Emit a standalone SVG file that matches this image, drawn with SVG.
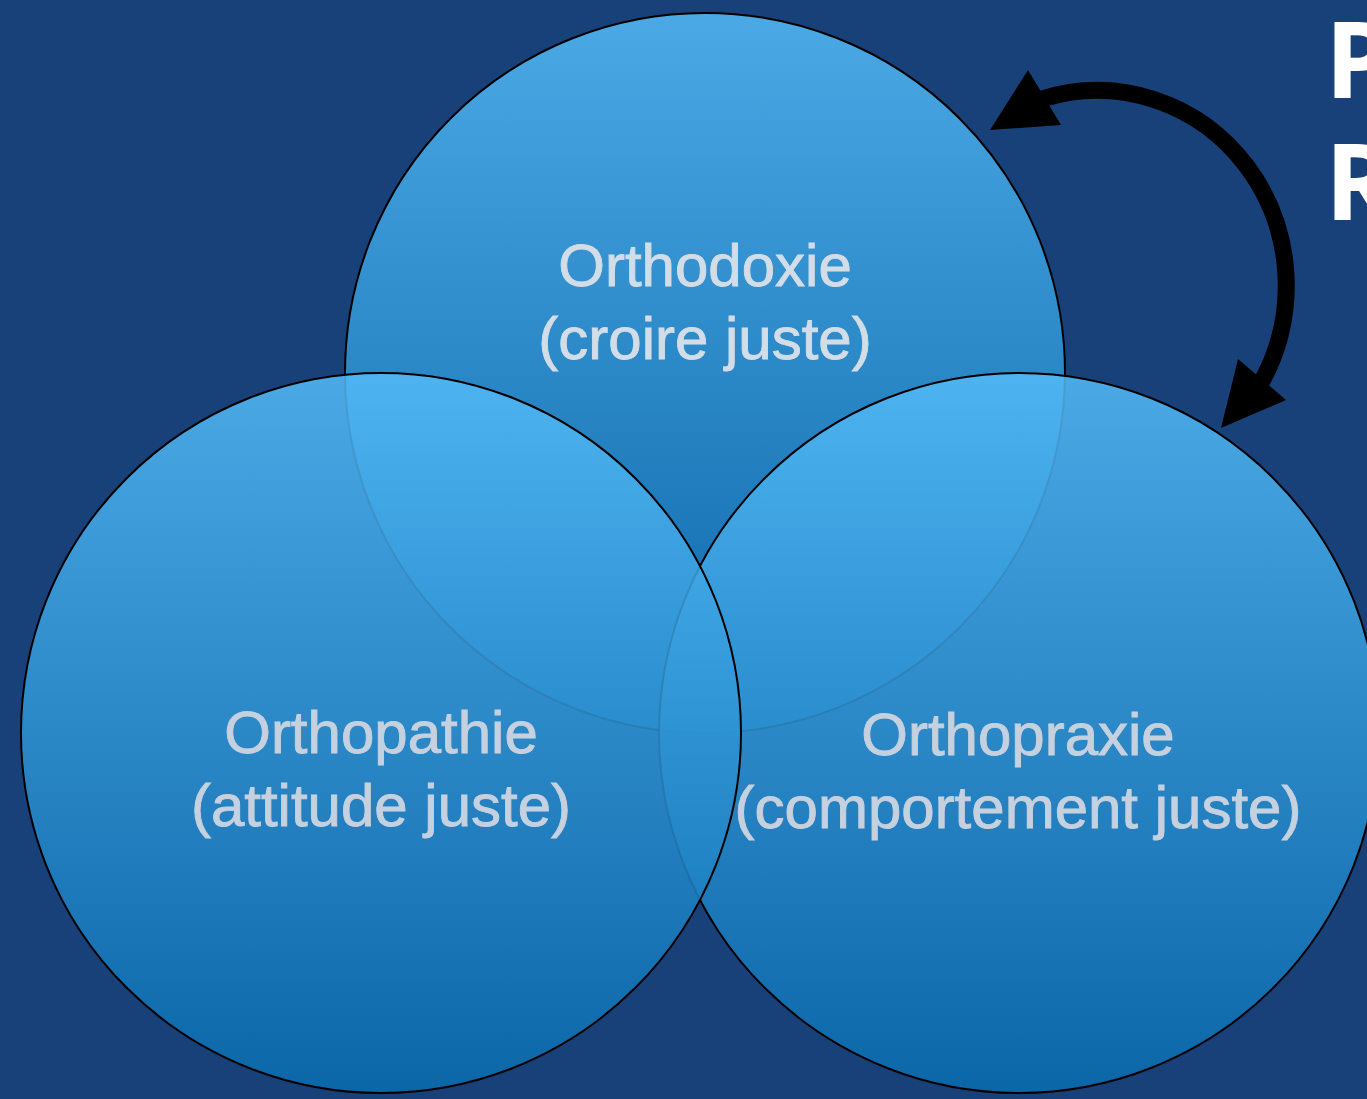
<svg xmlns="http://www.w3.org/2000/svg" width="1367" height="1099" viewBox="0 0 1367 1099">
  <defs>
    <linearGradient id="gradTop" gradientUnits="objectBoundingBox" x1="0" y1="0" x2="0" y2="1">
      <stop offset="0" stop-color="#54bbf8"/>
      <stop offset="1" stop-color="#096db0"/>
    </linearGradient>
    <style>
      .bubble { fill: url(#gradTop); fill-opacity: 0.85; stroke: #000000; stroke-width: 2; }
      .label { font-family: "Liberation Sans", Arial, Helvetica, sans-serif; font-size: 60px; text-anchor: middle; stroke-width: 0.9; }
      .label-top { fill: #d3dde8; stroke: #d3dde8; }
      .label-low { fill: #c6d1df; stroke: #c6d1df; }
      .side { font-family: "Open Sans", "Liberation Sans", sans-serif; font-weight: bold; font-size: 106px; fill: #ffffff; }
      .arc { fill: none; stroke: #000000; stroke-width: 17; }
      .head { fill: #000000; }
    </style>
  </defs>
  <rect x="0" y="0" width="1367" height="1099" fill="#18417a"/>

  <g id="node-orthodoxie">
    <circle class="bubble" cx="705" cy="373" r="360"/>
  </g>
  <g id="node-orthopraxie">
    <circle class="bubble" cx="1019" cy="733" r="360"/>
  </g>
  <g id="node-orthopathie">
    <circle class="bubble" cx="381" cy="733" r="360"/>
  </g>

  <g id="labels">
    <g id="label-orthodoxie">
      <text class="label label-top" x="705" y="286">Orthodoxie</text>
      <text class="label label-top" x="705" y="359">(croire juste)</text>
    </g>
    <g id="label-orthopathie">
      <text class="label label-low" x="381" y="753">Orthopathie</text>
      <text class="label label-low" x="381" y="826">(attitude juste)</text>
    </g>
    <g id="label-orthopraxie">
      <text class="label label-low" x="1018" y="755">Orthopraxie</text>
      <text class="label label-low" x="1018" y="828">(comportement juste)</text>
    </g>
  </g>

  <g id="connectors">
    <path class="arc" d="M1042,99 A189,195 0 0 1 1258,388"/>
    <polygon class="head" points="990,130 1028,70 1061,125"/>
    <polygon class="head" points="1221,428 1238,359 1286,400"/>
  </g>

  <g id="side-text">
    <text class="side" x="1325" y="98">P</text>
    <text class="side" x="1325" y="220">R</text>
  </g>
</svg>
